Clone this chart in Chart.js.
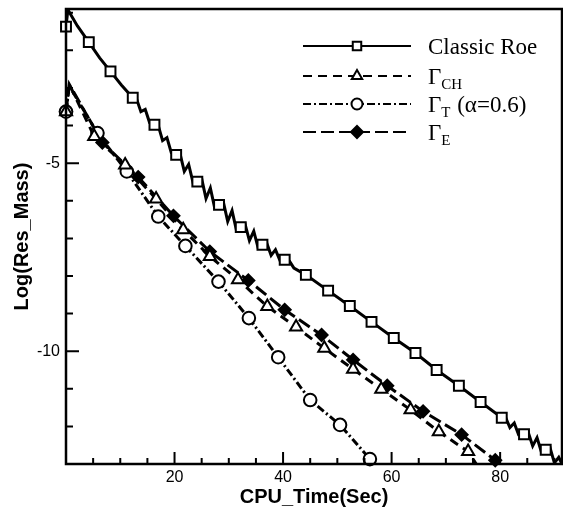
<!DOCTYPE html>
<html lang="en">
<head>
<meta charset="UTF-8">
<title>Residual convergence</title>
<script src="https://cdn.jsdelivr.net/npm/chart.js"></script>
<style>body{margin:0;background:#fff}</style>
</head>
<body>
<canvas id="resChart" width="563" height="512"></canvas>
<script>
// Classic Roe: full line (with the wiggles) and the square markers
const roeLineX = [0, 0.35, 2.1, 4.2, 6.2, 8.2, 10.2, 12.3, 13.0, 13.8, 14.6, 15.4, 16.3, 17.0, 17.8, 18.6, 19.4, 20.3, 21.0, 21.8, 22.6, 23.4, 24.2, 25.0, 25.8, 26.6, 27.4, 28.2, 29.0, 29.8, 30.6, 31.4, 32.2, 33.0, 33.8, 34.6, 35.4, 36.2, 37.0, 37.8, 38.6, 39.4, 40.3, 41.2, 42.0, 44.2, 48.3, 52.3, 56.3, 60.4, 64.4, 68.3, 72.4, 76.4, 80.3, 81.0, 81.8, 82.6, 83.4, 84.4, 85.2, 86.0, 86.8, 87.6, 88.4, 89.2, 90.0, 90.8, 91.4];
const roeLineY = [-1.37, -0.92, -1.35, -1.78, -2.2, -2.56, -2.92, -3.26, -3.29, -3.63, -3.57, -3.92, -3.98, -4.00, -4.40, -4.32, -4.72, -4.78, -4.74, -5.22, -5.03, -5.51, -5.49, -5.41, -5.94, -5.66, -6.19, -6.11, -6.03, -6.55, -6.26, -6.78, -6.70, -6.62, -7.06, -6.81, -7.25, -7.17, -7.13, -7.45, -7.30, -7.58, -7.57, -7.61, -7.79, -7.97, -8.39, -8.80, -9.22, -9.65, -10.05, -10.50, -10.92, -11.35, -11.77, -11.76, -12.03, -11.91, -12.22, -12.21, -12.17, -12.52, -12.30, -12.68, -12.62, -12.57, -12.97, -12.82, -13.0];
const roeMarkX = [0, 4.2, 8.2, 12.3, 16.3, 20.3, 24.2, 28.2, 32.2, 36.2, 40.3, 44.2, 48.3, 52.3, 56.3, 60.4, 64.4, 68.3, 72.4, 76.4, 80.3, 84.4, 88.4];
const roeMarkY = [-1.37, -1.78, -2.56, -3.26, -3.98, -4.78, -5.49, -6.11, -6.70, -7.17, -7.57, -7.97, -8.39, -8.80, -9.22, -9.65, -10.05, -10.50, -10.92, -11.35, -11.77, -12.21, -12.62];

// Gamma_CH (triangles)
const chLineX = [0, 0.6, 5.2, 10.9, 16.6, 21.6, 26.5, 31.7, 37.1, 42.4, 47.6, 52.9, 58.1, 63.5, 68.7, 74.1, 75.6];
const chLineY = [-3.63, -2.9, -4.29, -5.05, -5.95, -6.77, -7.48, -8.10, -8.81, -9.36, -9.92, -10.48, -11.01, -11.56, -12.14, -12.67, -13.0];
const chMarkX = [0, 5.2, 10.9, 16.6, 21.6, 26.5, 31.7, 37.1, 42.4, 47.6, 52.9, 58.1, 63.5, 68.7, 74.1];
const chMarkY = [-3.63, -4.29, -5.05, -5.95, -6.77, -7.48, -8.10, -8.81, -9.36, -9.92, -10.48, -11.01, -11.56, -12.14, -12.67];

// Gamma_T, alpha = 0.6 (circles)
const tLineX = [0, 0.6, 5.8, 11.2, 17.0, 22.0, 28.1, 33.7, 39.1, 45.0, 50.5, 56.0, 56.2];
const tLineY = [-3.63, -2.95, -4.20, -5.22, -6.42, -7.2, -8.15, -9.12, -10.16, -11.30, -11.96, -12.87, -13.0];
const tMarkX = [0, 5.8, 11.2, 17.0, 22.0, 28.1, 33.7, 39.1, 45.0, 50.5, 56.0];
const tMarkY = [-3.63, -4.20, -5.22, -6.42, -7.2, -8.15, -9.12, -10.16, -11.30, -11.96, -12.87];

// Gamma_E (filled diamonds)
const eLineX = [0, 0.6, 6.7, 13.3, 19.8, 26.5, 33.6, 40.3, 47.1, 52.9, 59.2, 65.8, 72.9, 79.1, 79.6];
const eLineY = [-3.63, -2.9, -4.45, -5.37, -6.40, -7.35, -8.12, -8.90, -9.57, -10.23, -10.92, -11.60, -12.22, -12.90, -13.0];
const eMarkX = [0, 6.7, 13.3, 19.8, 26.5, 33.6, 40.3, 47.1, 52.9, 59.2, 65.8, 72.9, 79.1];
const eMarkY = [-3.63, -4.45, -5.37, -6.40, -7.35, -8.12, -8.90, -9.57, -10.23, -10.92, -11.60, -12.22, -12.90];

const xTickLabels = [20, 40, 60, 80];
const yTickLabels = [-5, -10];

const pts = (xs, ys) => xs.map((x, i) => ({x: x, y: ys[i]}));

const dashRoe = [], dashCH = [9, 6], dashT = [8, 3, 2, 3], dashE = [13, 5];

function lineSet(xs, ys, dash) {
    return {data: pts(xs, ys), showLine: true, borderColor: '#000', borderWidth: 3,
        borderDash: dash, pointRadius: 0, fill: false, order: 2};
}
function markSet(xs, ys, style, r, fillCol) {
    return {data: pts(xs, ys), showLine: false, pointStyle: style, pointRadius: r,
        pointBackgroundColor: fillCol, pointBorderColor: '#000', pointBorderWidth: 2,
        clip: false, order: 1};
}

const legendRows = [
    {dash: dashRoe, style: 'rect', r: 6, fill: '#fff', parts: [['Classic Roe', 0]]},
    {dash: dashCH, style: 'triangle', r: 6, fill: '#fff', parts: [['Γ', 0], ['CH', 1]]},
    {dash: dashT, style: 'circle', r: 5.5, fill: '#fff', parts: [['Γ', 0], ['T', 1], [' (α=0.6)', 0]]},
    {dash: dashE, style: 'rectRot', r: 6, fill: '#000', parts: [['Γ', 0], ['E', 1]]}
];

const framePlugin = {
    id: 'frame',
    afterDraw(chart) {
        const {ctx, chartArea: a, scales: {x, y}} = chart;
        ctx.save();
        ctx.strokeStyle = '#000';
        ctx.setLineDash([]);
        // ticks pointing inwards
        ctx.lineWidth = 2;
        ctx.beginPath();
        for (let v = 5; v < x.max; v += 5) {
            const px = x.getPixelForValue(v);
            const len = v % 20 === 0 ? 12 : 6;
            ctx.moveTo(px, a.bottom);
            ctx.lineTo(px, a.bottom - len);
        }
        for (let v = Math.ceil(y.min); v <= y.max; v++) {
            const py = y.getPixelForValue(v);
            const len = v % 5 === 0 ? 13 : 7;
            ctx.moveTo(a.left, py);
            ctx.lineTo(a.left + len, py);
        }
        ctx.stroke();
        ctx.lineWidth = 2.5;
        ctx.strokeRect(a.left, a.top, a.right - a.left, a.bottom - a.top);

        // legend
        const ly = [46, 76, 104, 132];
        legendRows.forEach((row, i) => {
            ctx.lineWidth = 2;
            ctx.setLineDash(row.dash);
            ctx.beginPath();
            ctx.moveTo(303, ly[i]);
            ctx.lineTo(411, ly[i]);
            ctx.stroke();
            ctx.setLineDash([]);
            ctx.fillStyle = row.fill;
            Chart.helpers.drawPoint(ctx, {pointStyle: row.style, radius: row.r, borderWidth: 1.8, rotation: 0}, 357, ly[i]);
            let tx = 428;
            ctx.fillStyle = '#000';
            ctx.textBaseline = 'alphabetic';
            row.parts.forEach(p => {
                ctx.font = p[1] ? '15px "Liberation Serif"' : '23px "Liberation Serif"';
                ctx.fillText(p[0], tx, ly[i] + 8 + (p[1] ? 5 : 0));
                tx += ctx.measureText(p[0]).width + (p[1] ? 1 : 0);
            });
        });
        ctx.restore();
    }
};

new Chart(document.getElementById('resChart'), {
    type: 'scatter',
    data: {
        datasets: [
            markSet(roeMarkX, roeMarkY, 'rect', 7, '#fff'),
            markSet(chMarkX, chMarkY, 'triangle', 7, '#fff'),
            markSet(tMarkX, tMarkY, 'circle', 6.3, '#fff'),
            markSet(eMarkX, eMarkY, 'rectRot', 6, '#000'),
            lineSet(roeLineX, roeLineY, dashRoe),
            lineSet(chLineX, chLineY, dashCH),
            lineSet(tLineX, tLineY, dashT),
            lineSet(eLineX, eLineY, dashE)
        ]
    },
    options: {
        responsive: false,
        animation: false,
        layout: {autoPadding: false, padding: {top: 9, right: 1, left: 0, bottom: 0}},
        plugins: {legend: {display: false}, tooltip: {enabled: false}},
        scales: {
            x: {
                type: 'linear', min: 0, max: 91.4,
                grid: {display: false, drawTicks: false},
                border: {display: false},
                afterBuildTicks: s => { s.ticks = xTickLabels.map(v => ({value: v})); },
                afterFit: s => { s.height = 48; s.paddingLeft = 0; s.paddingRight = 0; },
                ticks: {color: '#000', padding: 4, maxRotation: 0, font: {family: 'Liberation Sans', size: 16}},
                title: {display: true, text: 'CPU_Time(Sec)', color: '#000', padding: {top: 0, bottom: 3},
                    font: {family: 'Liberation Sans', size: 20, weight: 'bold'}}
            },
            y: {
                type: 'linear', min: -13, max: -0.9,
                grid: {display: false, drawTicks: false},
                border: {display: false},
                afterBuildTicks: s => { s.ticks = yTickLabels.map(v => ({value: v})); },
                afterFit: s => { s.width = 66; s.paddingTop = 0; s.paddingBottom = 0; },
                ticks: {color: '#000', padding: 6, font: {family: 'Liberation Sans', size: 16}},
                title: {display: true, text: 'Log(Res_Mass)', color: '#000', padding: {top: 10, bottom: 0},
                    font: {family: 'Liberation Sans', size: 20, weight: 'bold'}}
            }
        }
    },
    plugins: [framePlugin]
});
</script>
</body>
</html>
